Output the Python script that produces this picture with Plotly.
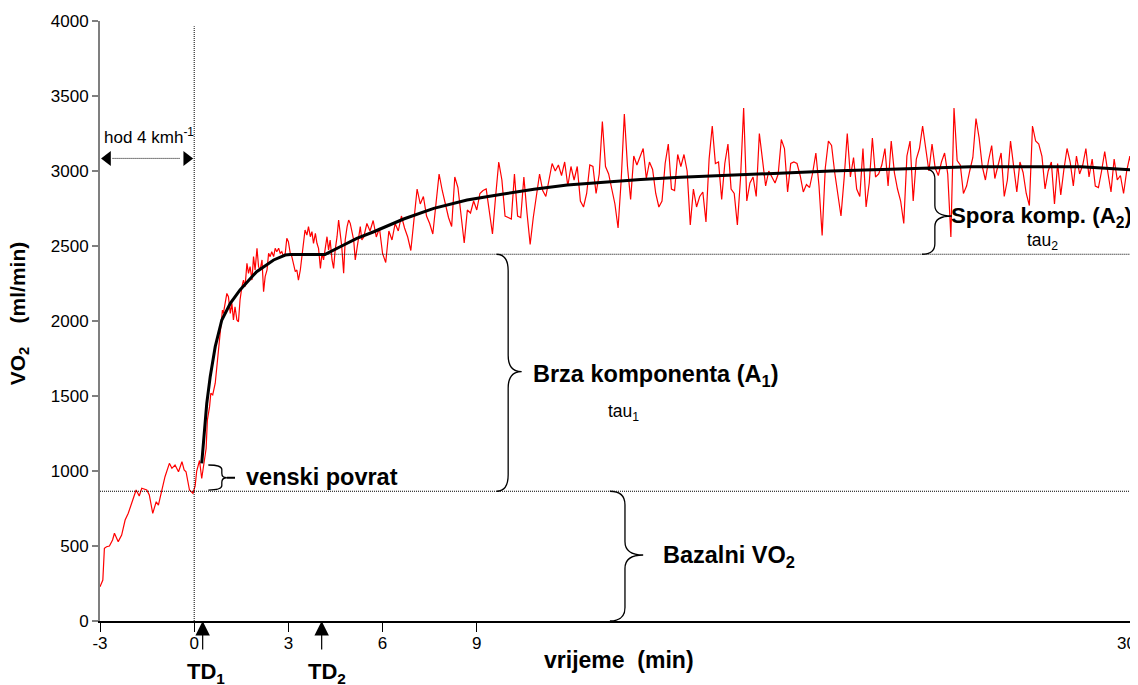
import numpy as np
import plotly.graph_objects as go

# ---------------- data ----------------
# measured VO2, irregular time stamps: rest walking + onset (min, ml/min)
t_early = [-3.0, -2.91, -2.86, -2.79, -2.70, -2.60, -2.54, -2.42, -2.31, -2.20,
           -2.10, -1.99, -1.85, -1.75, -1.67, -1.51, -1.43, -1.32, -1.21, -1.14,
           -1.03, -0.93, -0.79, -0.71, -0.61, -0.50, -0.39, -0.32, -0.26, -0.15,
           -0.04, 0.03, 0.08, 0.17, 0.24, 0.32, 0.38, 0.42, 0.49, 0.53,
           0.59, 0.67, 0.72, 0.77, 0.83, 0.86, 0.90, 0.93, 0.99, 1.04,
           1.09, 1.15, 1.20, 1.25, 1.30, 1.36, 1.41, 1.46, 1.52, 1.57,
           1.62, 1.68, 1.73, 1.78, 1.84, 1.89, 1.94, 2.00, 2.05, 2.10,
           2.16, 2.21, 2.26, 2.32, 2.37, 2.42, 2.47, 2.53, 2.58, 2.63,
           2.69, 2.74, 2.79, 2.85, 2.90, 2.95, 3.00, 3.06, 3.11, 3.16,
           3.22, 3.27, 3.32, 3.38, 3.43, 3.48, 3.53, 3.59, 3.64, 3.70,
           3.75, 3.80, 3.86, 3.91, 3.96, 4.02, 4.07, 4.12, 4.17, 4.23,
           4.28, 4.33, 4.39, 4.44, 4.49, 4.55, 4.60, 4.65, 4.70, 4.76,
           4.81, 4.87, 4.92, 4.97, 5.03, 5.08, 5.13, 5.19, 5.24, 5.29, 5.34]
v_early = [229, 273, 485, 495, 500, 540, 585, 529, 573, 673,
           718, 785, 873, 833, 885, 873, 840, 718, 795, 773,
           862, 962, 1051, 1018, 1040, 995, 1062, 1007, 995, 873,
           851, 900, 1000, 1070, 950, 1060, 1150, 1340, 1429, 1518,
           1507, 1585, 1695, 1785, 1895, 2007, 2073, 2051, 2140, 2184,
           2162, 2051, 2118, 2007, 2095, 2007, 1995, 2140, 2229, 2273,
           2229, 2384, 2318, 2362, 2273, 2429, 2340, 2485, 2362, 2340,
           2407, 2196, 2296, 2340, 2451, 2429, 2462, 2429, 2485, 2462,
           2485, 2451, 2462, 2429, 2451, 2551, 2529, 2451, 2429, 2384,
           2329, 2340, 2273, 2340, 2429, 2496, 2607, 2573, 2629, 2562,
           2596, 2518, 2584, 2518, 2485, 2351, 2451, 2407, 2496, 2562,
           2473, 2540, 2407, 2351, 2473, 2562, 2673, 2584, 2496, 2318,
           2540, 2629, 2673, 2651, 2584, 2540, 2407, 2496, 2584, 2629, 2540]

# measured VO2 at 0.1 min steps from 5.4 min to 30.0 min
late_start = 5.4
late_step = 0.1
v_late = [
    2560, 2650, 2600, 2670, 2560, 2620, 2450, 2390, 2600, 2540, 2650, 2600,
    2700, 2620, 2560, 2470, 2700, 2880, 2780, 2830, 2700, 2650,
    2580, 2800, 2980, 2870, 2780, 2690, 2630, 2960, 2890, 2680,
    2520, 2740, 2720, 2800, 2740, 2850, 2870, 2880, 2740, 2580,
    2830, 3060, 2940, 2700, 2690, 2680, 2980, 2700, 2690, 2960,
    2720, 2510, 2690, 2830, 2980, 2870, 2830, 2940, 3050, 3000,
    3040, 2970, 3060, 2900, 3030, 2940, 3030, 2800, 2760, 2850,
    3040, 3030, 2850, 2980, 3330, 3030, 2980, 2880, 2780, 2620,
    2940, 3380, 3030, 2810,
    3100, 3040, 3090, 3150, 2950, 3060, 3010, 2850, 2760, 2800,
    3050, 3180, 2880, 2870, 3110, 3030, 3110, 3000, 2640, 2880,
    2760, 2830, 2860, 2660, 3080, 3300, 3050, 3060, 2810, 3050,
    3180, 2880, 2850, 2640, 2950, 3420, 2800, 2920, 2960, 2830,
    3250, 3070, 2900, 3000, 2960, 2920, 2980, 3210, 3150, 2860,
    3050, 3060, 3050, 2970, 2860, 2910, 2890, 2990, 3120, 2900,
    2570, 3020, 3200, 3170, 2990, 2850, 2700, 2950, 3250, 2960,
    3090, 2880, 2830, 3150, 2760, 2920, 3220, 2960, 2980, 3040,
    3150, 2900,
    3200, 2990, 2880, 2800, 2650, 3100, 3200, 2800, 3080, 3150,
    3300, 3150, 3000, 3180, 3020, 2970, 3060, 3120, 2980, 2560,
    3420, 3070, 3040, 2850, 2900, 3000, 3090, 3350, 3220, 3030,
    2940, 3070, 3170, 2950, 3030, 3120, 2830, 2940, 3200, 3010,
    2860, 3060, 2990, 2850, 2770, 3300, 3200, 3180, 3100, 2880,
    3000, 3060, 2780, 3050, 2840, 3010, 3150, 3060, 2900, 3100,
    2980, 3040, 3150, 2960, 3080, 2900, 2890, 3000, 3130, 2990,
    2860, 3080, 2940, 2970, 2850, 3000, 3100, 2950, 3150]

# fitted two-component model curve (black)
t_fit = [0.24, 0.32, 0.40, 0.51, 0.67, 0.88, 1.15, 1.46, 1.99, 2.53, 2.90, 3.06,
         4.17, 4.65, 5.18, 5.72, 6.25, 6.67, 7.63, 8.69, 9.75, 10.82, 11.88,
         12.94, 14.22, 15.49, 17.09, 18.68, 20.28, 22.19, 24.74, 28.25, 29.31, 29.95]
v_fit = [1051, 1250, 1450, 1629, 1829, 2007, 2118, 2207, 2329, 2407, 2440, 2444,
         2444, 2495, 2551, 2595, 2640, 2680, 2751, 2807, 2844, 2878, 2906,
         2922, 2944, 2958, 2973, 2989, 3000, 3011, 3029, 3029, 3018, 3007]

# reference levels and time delays
baseline_vo2 = 865
fast_level = 2445
end_level = 3018
venous_top = 1040
td1 = 0.27
td2 = 4.06

x_tickvals = [-3, 0, 3, 6, 9, 30]
x_ticktext = ["-3", "0", "3", "6", "9", ""]
y_tickvals = [0, 500, 1000, 1500, 2000, 2500, 3000, 3500, 4000]

# ---------------- build ----------------
t_late = [round(late_start + late_step * i, 2) for i in range(len(v_late))]
t_all = t_early + t_late
v_all = v_early + v_late

FONT = "Liberation Sans, Arial, sans-serif"
NARROW = "Liberation Sans Narrow, Arial Narrow, Liberation Sans, Arial, sans-serif"
X_MAX = 30.06
BIG = 23.5

fig = go.Figure()
fig.add_trace(go.Scatter(x=t_all, y=v_all, mode="lines",
                         line=dict(color="#ff0000", width=1.2), hoverinfo="skip"))
fig.add_trace(go.Scatter(x=t_fit, y=v_fit, mode="lines",
                         line=dict(color="black", width=3), hoverinfo="skip"))
# arrow heads for the "hod" double arrow
fig.add_trace(go.Scatter(x=[-2.76, -0.24], y=[3084, 3084], mode="markers",
                         marker=dict(symbol=["triangle-left", "triangle-right"],
                                     size=13, color="black"),
                         cliponaxis=False, hoverinfo="skip"))

DOT = "1px,1px"
shapes = [
    dict(type="line", x0=-3, x1=X_MAX, y0=baseline_vo2, y1=baseline_vo2,
         line=dict(color="black", width=1, dash=DOT)),
    dict(type="line", x0=td2, x1=X_MAX, y0=fast_level, y1=fast_level,
         line=dict(color="black", width=1, dash=DOT)),
    dict(type="line", x0=0, x1=0, y0=0, y1=3965,
         line=dict(color="black", width=1, dash=DOT)),
    dict(type="line", x0=30.03, x1=30.03, y0=0, y1=3965,
         line=dict(color="black", width=1, dash=DOT)),
    dict(type="line", x0=-2.6, x1=-0.45, y0=3084, y1=3084,
         line=dict(color="black", width=1, dash=DOT)),
]


def brace(x0, x1, xt, ytop, ybot, ymid, cy):
    p = (f"M{x0},{ytop} Q{x1},{ytop} {x1},{ytop - cy} "
         f"L{x1},{ymid + cy} Q{x1},{ymid} {xt},{ymid} "
         f"Q{x1},{ymid} {x1},{ymid - cy} "
         f"L{x1},{ybot + cy} Q{x1},{ybot} {x0},{ybot}")
    return dict(type="path", path=p, line=dict(color="black", width=1.3))


shapes += [
    brace(0.45, 0.88, 1.04, venous_top, baseline_vo2 + 8, 955, 30),
    dict(type="line", x0=1.04, x1=1.30, y0=955, y1=955,
         line=dict(color="black", width=2)),
    brace(9.63, 10.0, 10.43, fast_level, baseline_vo2, 1662, 110),
    brace(13.24, 13.72, 14.30, baseline_vo2, 0, 440, 90),
    brace(23.18, 23.59, 24.13, end_level, fast_level, 2700, 70),
]


def note(text, x, y, size, bold=False, xanchor="left", **kw):
    if bold:
        text = f"<b>{text}</b>"
    d = dict(text=text, x=x, y=y, xref="x", yref="y", showarrow=False,
             xanchor=xanchor, yanchor="middle",
             font=dict(family=FONT, size=size, color="black"))
    d.update(kw)
    return d


annotations = [
    note("hod 4 kmh<sup>-1</sup>", -2.95, 3233, 17),
    note("venski povrat", 1.58, 962, BIG, bold=True),
    note("Brza komponenta (A<sub>1</sub>)", 10.72, 1640, BIG, bold=True),
    note("tau<sub>1</sub>", 13.66, 1387, 17.5, xanchor="center"),
    note("Bazalni VO<sub>2</sub>", 14.86, 432, BIG, bold=True),
    note("Spora komp. (A<sub>2</sub>)", 24.05, 2692, 22.3, bold=True),
    note("tau<sub>2</sub>", 27.03, 2529, 17.5, xanchor="center"),
    # TD arrows
    dict(x=td1, y=0, xref="x", yref="y", text="", showarrow=True, ax=0, ay=30,
         arrowhead=2, arrowsize=2.4, arrowwidth=1.2, arrowcolor="black"),
    dict(x=td2, y=0, xref="x", yref="y", text="", showarrow=True, ax=0, ay=30,
         arrowhead=2, arrowsize=2.4, arrowwidth=1.2, arrowcolor="black"),
    dict(x=0.38, y=-0.087, xref="x", yref="paper", text="<b>TD<sub>1</sub></b>",
         showarrow=False, xanchor="center", yanchor="middle",
         font=dict(family=FONT, size=22, color="black")),
    dict(x=4.23, y=-0.087, xref="x", yref="paper", text="<b>TD<sub>2</sub></b>",
         showarrow=False, xanchor="center", yanchor="middle",
         font=dict(family=FONT, size=22, color="black")),
    # axis titles
    dict(x=13.53, y=-0.065, xref="x", yref="paper", text="<b>vrijeme&nbsp; (min)</b>",
         showarrow=False, xanchor="center", yanchor="middle",
         font=dict(family=NARROW, size=23, color="black")),
    dict(x=-0.078, y=0.513, xref="paper", yref="paper",
         text="<b>VO<sub>2</sub>&nbsp;&nbsp;&nbsp; (ml/min)</b>", textangle=-90,
         showarrow=False, xanchor="center", yanchor="middle",
         font=dict(family=FONT, size=21, color="black")),
    # last x tick label (at the right edge)
    dict(x=1.0, y=-0.037, xref="paper", yref="paper", text="30",
         showarrow=False, xanchor="right", yanchor="middle",
         font=dict(family=FONT, size=17, color="black")),
]

# the page adds an 8 px body margin, so the figure is 8 px smaller and shifted
fig.update_layout(
    width=1130, height=677,
    margin=dict(l=92, r=0, t=13, b=64),
    paper_bgcolor="white", plot_bgcolor="white",
    showlegend=False,
    font=dict(family=FONT, size=17, color="black"),
    shapes=shapes, annotations=annotations,
    xaxis=dict(range=[-3, X_MAX], tickvals=x_tickvals, ticktext=x_ticktext,
               showgrid=False, zeroline=False, showline=True, linecolor="black",
               linewidth=1.5, ticks="outside", ticklen=9, tickwidth=1.3,
               tickcolor="black", tickfont=dict(size=17), ticklabelstandoff=-3),
    yaxis=dict(range=[0, 4000], tickvals=y_tickvals, showgrid=False,
               zeroline=False, showline=True, linecolor="#7f7f7f", linewidth=2,
               ticks="outside", ticklen=6, tickwidth=1.5, tickcolor="#7f7f7f",
               tickfont=dict(size=17)),
)

fig.write_html("out.html")
